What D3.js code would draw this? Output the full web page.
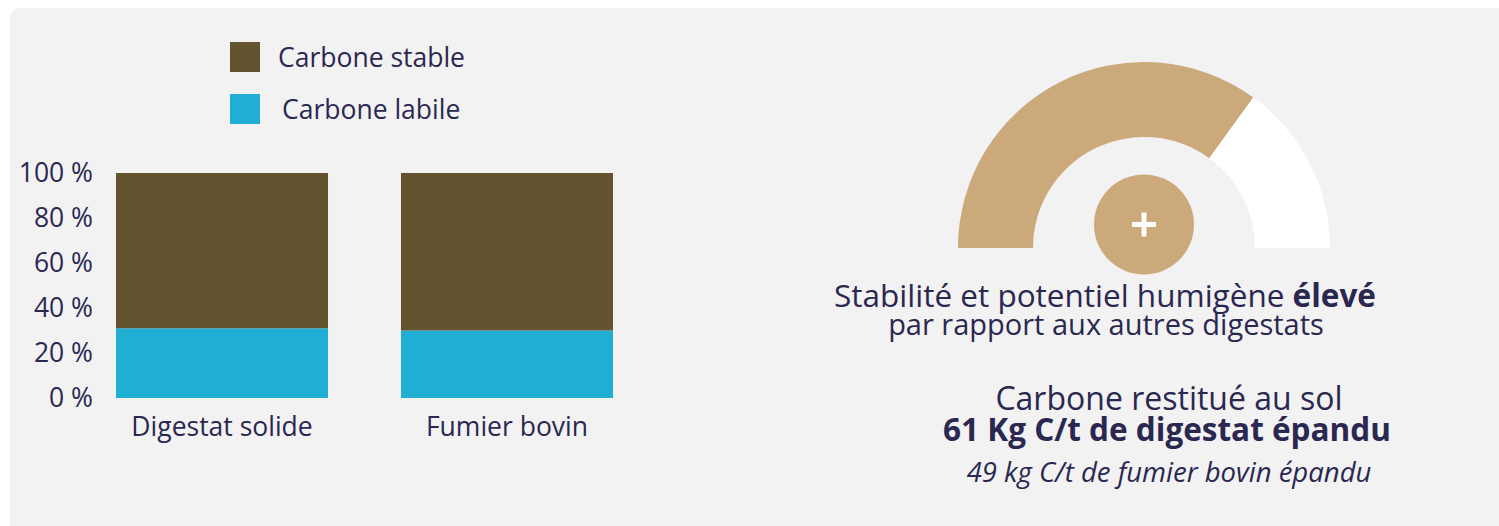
<!DOCTYPE html>
<html><head><meta charset="utf-8">
<script src="https://cdn.jsdelivr.net/npm/d3@7"></script>
<style>
html,body{margin:0;padding:0;background:#fff;}
svg{display:block;font-family:"Open Sans",sans-serif;}
</style></head>
<body>
<svg id="chart" width="1499" height="526"></svg>
<script>
// ---- data ----
const categories = ["Digestat solide", "Fumier bovin"];
const seriesNames = ["Carbone stable", "Carbone labile"];
const labileValues = [31, 30];
const stableValues = [69, 70];
const yTicks = [0, 20, 40, 60, 80, 100];
const gaugeShares = [0.7, 0.3]; // filled, remaining
const textLines = {
  line1: "Stabilité et potentiel humigène ",
  line1Bold: "élevé",
  line2: "par rapport aux autres digestats",
  line3: "Carbone restitué au sol",
  line4: "61 Kg C/t de digestat épandu",
  line5: "49 kg C/t de fumier bovin épandu"
};

const colors = {stable: "#63532e", labile: "#21aed4", text: "#2a2850", panel: "#f2f2f2", gauge: "#cba97b"};

const svg = d3.select("#chart");

// panel
svg.append("rect").attr("x", 10).attr("y", 8).attr("width", 1500).attr("height", 530)
  .attr("rx", 10).attr("fill", colors.panel);

// scales
const x = d3.scaleBand().domain(categories).range([116, 613]).paddingInner(0.256).paddingOuter(0);
const y = d3.scaleLinear().domain([0, 100]).range([398, 173]);

const rows = categories.map((c, i) => ({cat: c, labile: labileValues[i], stable: stableValues[i]}));
const stack = d3.stack().keys(["labile", "stable"])(rows);
const fillFor = {labile: colors.labile, stable: colors.stable};

svg.append("g").selectAll("g").data(stack).join("g")
  .attr("fill", d => fillFor[d.key])
  .selectAll("rect").data(d => d).join("rect")
  .attr("x", d => x(d.data.cat))
  .attr("width", x.bandwidth())
  .attr("y", d => y(d[1]))
  .attr("height", d => y(d[0]) - y(d[1]));

// y axis
const yAxis = svg.append("g").attr("transform", "translate(116,0)")
  .call(d3.axisLeft(y).tickValues(yTicks).tickSize(0).tickPadding(23).tickFormat(d => d + " %"));
yAxis.select(".domain").remove();
yAxis.selectAll("text").attr("fill", colors.text).style("font-size", "26.5px")
  .style("font-family", "'Open Sans',sans-serif");

// category labels
svg.append("g").selectAll("text").data(categories).join("text")
  .attr("x", d => x(d) + x.bandwidth() / 2)
  .attr("y", 436)
  .attr("text-anchor", "middle")
  .attr("fill", colors.text)
  .style("font-size", "26.5px")
  .text(d => d);

// legend
const legendColors = [colors.stable, colors.labile];
const leg = svg.append("g").selectAll("g").data(seriesNames).join("g")
  .attr("transform", (d, i) => `translate(230,${42 + i * 52})`);
leg.append("rect").attr("width", 30).attr("height", 30).attr("fill", (d, i) => legendColors[i]);
leg.append("text").attr("x", (d, i) => i === 0 ? 48 : 52).attr("y", 25)
  .attr("fill", colors.text).style("font-size", "26.5px").text(d => d);

// gauge
const gcx = 1144, gcy = 248;
const arcGen = d3.arc().innerRadius(111).outerRadius(186);
const pie = d3.pie().sort(null).value(d => d).startAngle(-Math.PI / 2).endAngle(Math.PI / 2);
const g = svg.append("g").attr("transform", `translate(${gcx},${gcy})`);
g.selectAll("path").data(pie(gaugeShares)).join("path")
  .attr("d", arcGen)
  .attr("fill", (d, i) => i === 0 ? colors.gauge : "#ffffff");
g.append("circle").attr("cx", 0).attr("cy", -23.5).attr("r", 50).attr("fill", colors.gauge);
g.append("rect").attr("x", -12).attr("y", -23.5 - 2.5).attr("width", 24).attr("height", 5).attr("fill", "#fff");
g.append("rect").attr("x", -2.5).attr("y", -23.5 - 12).attr("width", 5).attr("height", 24).attr("fill", "#fff");

// right texts
const t1 = svg.append("text").attr("x", 1105).attr("y", 307).attr("text-anchor", "middle")
  .attr("fill", colors.text).style("font-size", "31.5px");
t1.append("tspan").text(textLines.line1);
t1.append("tspan").style("font-weight", "700").text(textLines.line1Bold);

svg.append("text").attr("x", 1106).attr("y", 335).attr("text-anchor", "middle")
  .attr("fill", colors.text).style("font-size", "29px").text(textLines.line2);

svg.append("text").attr("x", 1169).attr("y", 410).attr("text-anchor", "middle")
  .attr("fill", colors.text).style("font-size", "32px").text(textLines.line3);

svg.append("text").attr("x", 1167).attr("y", 441).attr("text-anchor", "middle")
  .attr("fill", colors.text).style("font-size", "31.5px").style("font-weight", "700").text(textLines.line4);

svg.append("text").attr("x", 1169).attr("y", 482).attr("text-anchor", "middle")
  .attr("fill", colors.text).style("font-size", "27.5px").style("font-style", "italic").text(textLines.line5);
</script>
</body></html>
